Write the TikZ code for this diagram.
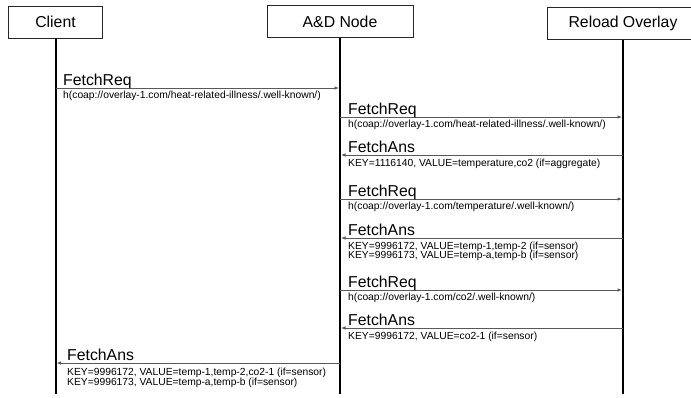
\documentclass[tikz,border=0pt]{standalone}
\usepackage{fontspec}
\setmainfont{Liberation Sans}
\usetikzlibrary{arrows.meta}
\begin{document}
\begin{tikzpicture}[x=1pt,y=-1pt,
  actor/.style={draw=black!85, line width=0.9pt, minimum height=32pt, inner sep=0pt, font=\fontsize{15.8}{18}\selectfont},
  life/.style={line width=2pt, black},
  msg/.style={draw=black!65, line width=0.9pt, -{Latex[length=4.5pt,width=3.5pt]}, shorten >=1pt},
  lbl/.style={anchor=base west, inner sep=0pt, font=\fontsize{15.8}{18}\selectfont},
  sub/.style={anchor=base west, inner sep=0pt, font=\fontsize{10.3}{11}\selectfont}]
\fill[white] (0,0) rectangle (691,397);
\clip (0,0) rectangle (691,397);

% actors
\node[actor, minimum width=94pt] (cl) at (55.5,22) {Client};
\node[actor, minimum width=146pt] (ad) at (340,21.5) {A\&D Node};
\node[actor, minimum width=152pt] (ro) at (623,23.5) {Reload Overlay};

% lifelines
\coordinate (clend) at (55.5,394);
\coordinate (adend) at (340,394);
\coordinate (roend) at (623,394);
\draw[life] (cl.south) -- (clend);
\draw[life] (ad.south) -- (adend);
\draw[life] (ro.south) -- (roend);

% message anchor points
\foreach \n/\y in {1/88,2/117,3/155,4/199,5/238,6/290,7/328,8/363}{
  \coordinate (c\n) at (55.5,\y);
  \coordinate (a\n) at (340,\y);
  \coordinate (r\n) at (623,\y);
}

% 1
\draw[msg] (c1) -- (a1);
\node[lbl] (l1) at (63,85) {FetchReq};
\node[sub] (s1) at (63,98.5) {h(coap://overlay-1.com/heat-related-illness/.well-known/)};
% 2
\draw[msg] (a2) -- (r2);
\node[lbl] (l2) at (348,114) {FetchReq};
\node[sub] (s2) at (348,127.5) {h(coap://overlay-1.com/heat-related-illness/.well-known/)};
% 3
\draw[msg] (r3) -- (a3);
\node[lbl] (l3) at (348,152) {FetchAns};
\node[sub] (s3) at (348,166) {KEY=1116140, VALUE=temperature,co2 (if=aggregate)};
% 4
\draw[msg] (a4) -- (r4);
\node[lbl] (l4) at (348,196) {FetchReq};
\node[sub] (s4) at (348,209.5) {h(coap://overlay-1.com/temperature/.well-known/)};
% 5
\draw[msg] (r5) -- (a5);
\node[lbl] (l5) at (348,235) {FetchAns};
\node[sub] (s5a) at (348,249) {KEY=9996172, VALUE=temp-1,temp-2 (if=sensor)};
\node[sub] (s5b) at (348,258.5) {KEY=9996173, VALUE=temp-a,temp-b (if=sensor)};
% 6
\draw[msg] (a6) -- (r6);
\node[lbl] (l6) at (348,287) {FetchReq};
\node[sub] (s6) at (348,300) {h(coap://overlay-1.com/co2/.well-known/)};
% 7
\draw[msg] (r7) -- (a7);
\node[lbl] (l7) at (348,325) {FetchAns};
\node[sub] (s7) at (348,339) {KEY=9996172, VALUE=co2-1 (if=sensor)};
% 8
\draw[msg] (a8) -- (c8);
\node[lbl] (l8) at (67,360) {FetchAns};
\node[sub] (s8a) at (67,375) {KEY=9996172, VALUE=temp-1,temp-2,co2-1 (if=sensor)};
\node[sub] (s8b) at (67,385) {KEY=9996173, VALUE=temp-a,temp-b (if=sensor)};
\end{tikzpicture}
\end{document}
